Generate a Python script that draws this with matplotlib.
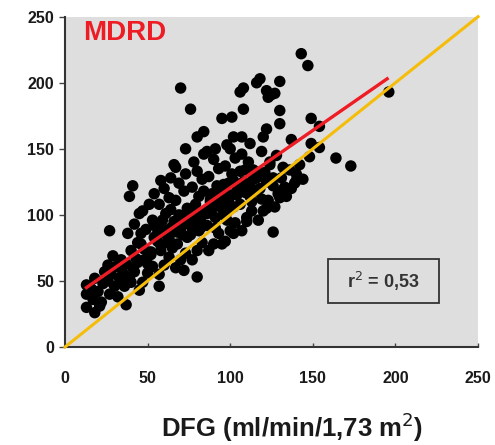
import matplotlib
matplotlib.use("Agg")
import matplotlib.pyplot as plt
from matplotlib.patches import Rectangle

plt.rcParams["font.family"] = ["Liberation Sans", "DejaVu Sans"]

BG = "#dedede"
RED = "#ee1c25"
GOLD = "#f5bd0a"
INK = "#1a1a1a"

# sparse points around the cloud (DFG, MDRD)
outer_x = [143, 147, 196, 70, 76, 118, 116, 130, 106, 108, 122, 125, 123, 127,
           108, 130, 95, 101, 149, 130, 154, 122, 84, 80, 73, 102, 107, 120,
           137, 149, 154, 91, 98, 112, 148, 164, 173, 67, 140, 144, 132, 41,
           39, 58, 27, 126, 122, 80, 72, 13, 13, 13, 18, 22, 37, 26, 39, 40,
           45, 57, 95, 102, 110]
outer_y = [222, 213, 193, 196, 180, 203, 200, 201, 193, 196, 194, 191, 189, 192,
           180, 179, 173, 174, 173, 169, 167, 165, 163, 159, 150, 159, 159, 159,
           157, 154, 151, 150, 153, 154, 144, 143, 137, 136, 126, 127, 119, 122,
           114, 126, 88, 87, 105, 53, 58, 47, 40, 30, 26, 34, 32, 62, 53, 49,
           43, 46, 78, 86, 98]

# dense core of the cloud
core_x = [17, 20, 23, 18, 24, 21, 16,
          27, 30, 33, 28, 31, 34, 29, 32, 26,
          36, 39, 42, 37, 43, 40, 44, 38, 42, 45, 41,
          47, 50, 53, 48, 52, 46, 54, 49, 53, 47, 51, 54, 50,
          57, 60, 63, 58, 62, 56, 64, 59, 61, 57, 63, 60, 64, 58,
          67, 70, 73, 68, 74, 66, 71, 69, 74, 67, 72, 69, 73, 66, 71,
          77, 80, 83, 76, 82, 78, 84, 79, 81, 77, 83, 80, 78, 84, 81,
          87, 90, 93, 86, 91, 88, 94, 89, 92, 87, 93, 90, 86, 91,
          97, 100, 103, 96, 102, 98, 104, 99, 101, 97, 103, 100, 98,
          107, 110, 113, 106, 112, 108, 114, 109, 111, 107, 113,
          117, 120, 123, 116, 122, 118, 124, 119,
          127, 130, 133, 126, 132, 128,
          137, 140, 142,
          62, 75, 85, 95, 105, 88, 70, 65, 95, 80, 110, 100]
core_y = [36, 42, 48, 52, 57, 31, 44,
          40, 46, 52, 55, 61, 66, 69, 38, 50,
          46, 51, 57, 63, 67, 73, 79, 86, 93, 101, 60,
          49, 56, 61, 66, 72, 78, 83, 89, 96, 103, 108, 116, 63,
          55, 62, 68, 73, 79, 86, 90, 96, 101, 108, 113, 120, 128, 92,
          60, 66, 71, 78, 83, 88, 93, 100, 105, 111, 118, 124, 131, 138, 85,
          66, 73, 79, 85, 90, 96, 102, 108, 114, 121, 127, 133, 140, 146, 88,
          73, 78, 86, 92, 98, 104, 110, 116, 122, 129, 135, 142, 148, 90,
          80, 88, 94, 100, 106, 112, 118, 124, 131, 137, 143, 150, 96,
          88, 95, 103, 108, 114, 121, 127, 134, 140, 146, 110,
          96, 103, 111, 118, 125, 132, 140, 148,
          106, 113, 121, 128, 136, 145,
          120, 131, 138,
          84, 95, 103, 115, 120, 110, 90, 75, 105, 100, 118, 115]

# extra points filling the densest band along the fit line
fill_x = [35, 44, 52, 58, 63, 68, 72, 76, 82, 86, 90, 94, 99, 104, 108, 112,
          116, 121, 126, 131, 136, 48, 56, 66, 78, 92, 102, 114, 124, 60, 74,
          88, 96, 106, 118, 84, 64, 54, 46, 98, 109, 119, 129, 134, 139]
fill_y = [56, 64, 70, 77, 82, 87, 96, 92, 97, 101, 106, 113, 110, 115, 125, 122,
          128, 132, 122, 128, 134, 74, 80, 95, 104, 118, 126, 134, 138, 88, 101,
          112, 123, 133, 120, 118, 104, 92, 86, 102, 117, 112, 116, 114, 124]

# regression line and identity line
fit_x = [13, 195]
fit_y = [45, 203]
ident = [0, 250]

ticks = [0, 50, 100, 150, 200, 250]

fig = plt.figure(figsize=(4.95, 4.45), dpi=100)
ax = fig.add_axes([0.1313, 0.2202, 0.8344, 0.7423])
ax.set_facecolor(BG)

ax.scatter(outer_x + core_x + fill_x, outer_y + core_y + fill_y, s=68,
           color="black", edgecolors="none", zorder=3)
ax.plot(ident, ident, color=GOLD, lw=2.2, zorder=4, clip_on=False)
ax.plot(fit_x, fit_y, color=RED, lw=2.4, zorder=5)

ax.set_xlim(0, 250)
ax.set_ylim(0, 250)
ax.set_xticks(ticks)
ax.set_yticks(ticks)
ax.set_xticklabels([str(t) for t in ticks], fontsize=11.5, fontweight="bold",
                   color=INK)
ax.set_yticklabels([str(t) for t in ticks], fontsize=11.5, fontweight="bold",
                   color=INK)
ax.tick_params(axis="x", direction="in", length=3, width=1, pad=17, color="#444")
ax.tick_params(axis="y", direction="out", length=4, width=1, pad=4, color="#444")
for side in ("top", "right"):
    ax.spines[side].set_visible(False)
for side in ("left", "bottom"):
    ax.spines[side].set_color("#333")
    ax.spines[side].set_linewidth(1.5)

ax.text(0.045, 0.99, "MDRD", transform=ax.transAxes, color=RED, fontsize=20,
        fontweight="bold", ha="left", va="top")

ax.add_patch(Rectangle((0.636, 0.134), 0.269, 0.131, transform=ax.transAxes,
                       facecolor="none", edgecolor="#333", lw=1.3, zorder=6))
ax.text(0.7705, 0.1995, "r$^2$ = 0,53", transform=ax.transAxes, fontsize=13,
        fontweight="bold", color="#333", ha="center", va="center", zorder=7)

fig.text(0.59, 0.04, "DFG (ml/min/1,73 m$^2$)", fontsize=18.5, fontweight="bold",
         ha="center", va="center", color=INK)

fig.savefig("out.png", dpi=100, facecolor="white")
